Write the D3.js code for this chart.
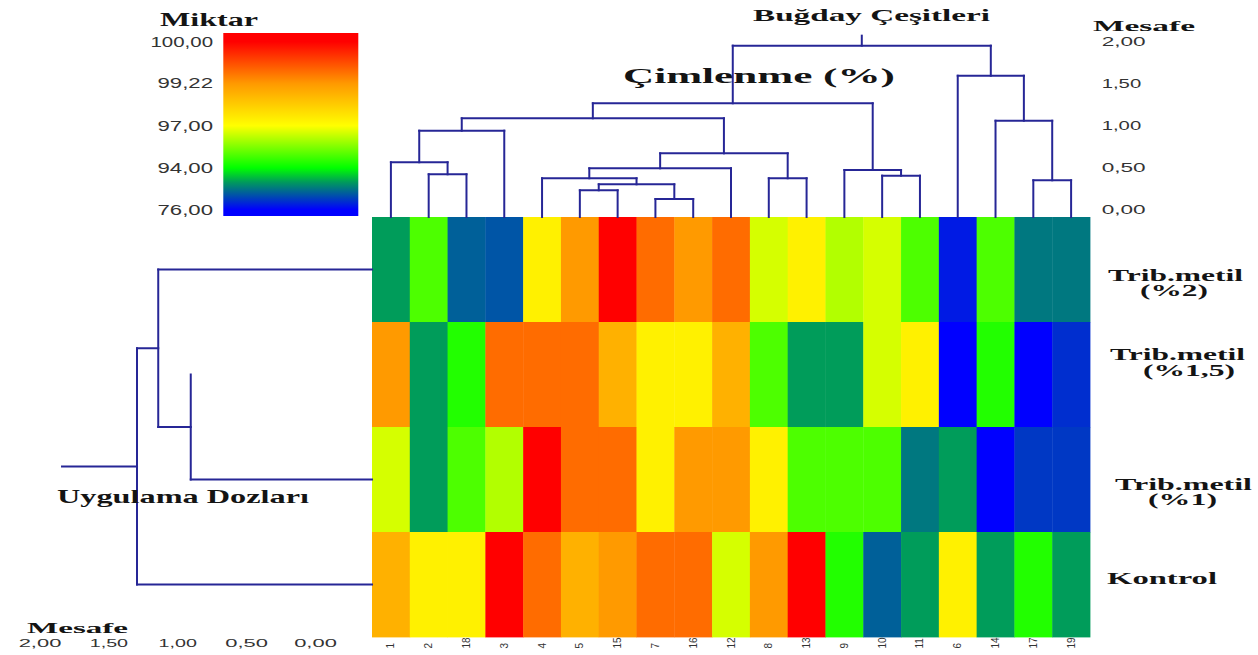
<!DOCTYPE html>
<html>
<head>
<meta charset="utf-8">
<script src="https://cdnjs.cloudflare.com/ajax/libs/d3/7.8.5/d3.min.js"></script>
<style>
body { margin: 0; background: #fff; }
svg { display: block; }
.title { font-family: "Liberation Serif", "Times New Roman", serif; font-weight: bold; fill: #141414; }
.num { font-family: "Liberation Sans", Arial, sans-serif; fill: #333; }
</style>
</head>
<body>
<div id="chart"></div>
<script>
// cultivars in dendrogram leaf order (left to right)
const cultivars = ["1", "2", "18", "3", "4", "5", "15", "7", "16", "12", "8", "13", "9", "10", "11", "6", "14", "17", "19"];
const treatments = ["Trib.metil (%2)", "Trib.metil (%1,5)", "Trib.metil (%1)", "Kontrol"];
const treatmentLines = [["Trib.metil", "(%2)"], ["Trib.metil", "(%1,5)"], ["Trib.metil", "(%1)"], ["Kontrol"]];

// germination %, one array per treatment, same order as cultivars
const trib2   = [88, 94.9, 83.4, 82.5, 97.3, 99.2, 100, 99.45, 99.2, 99.45, 96.5, 97.3, 96.1, 96.5, 94.9, 78, 94.9, 85.2, 85.2];
const trib15  = [99.2, 88, 94.4, 99.45, 99.45, 99.45, 98.7, 97.3, 97.3, 98.7, 94.9, 88, 88, 96.5, 97.3, 76, 94.4, 76, 79.5];
const trib1   = [96.5, 88, 94.9, 96.1, 100, 99.45, 99.45, 97.3, 99.2, 99.2, 97.3, 94.9, 94.9, 94.9, 85.2, 88, 76, 80.3, 80.3];
const kontrol = [98.7, 97.3, 97.3, 100, 99.45, 98.7, 99.2, 99.45, 99.45, 96.5, 99.2, 100, 94.4, 83.4, 88, 97.3, 88, 94.4, 88];

// cluster merges: [a, b, distance], "nK" = result of merge K
const colMerges = [
    ["2", "18", 0.42],
    ["1", "n0", 0.563],
    ["n1", "3", 0.938],
    ["5", "15", 0.23],
    ["7", "16", 0.127],
    ["n3", "n4", 0.301],
    ["4", "n5", 0.373],
    ["n6", "12", 0.491],
    ["8", "13", 0.373],
    ["n7", "n8", 0.669],
    ["n2", "n9", 1.085],
    ["10", "11", 0.404],
    ["9", "n11", 0.471],
    ["n10", "n12", 1.263],
    ["17", "19", 0.349],
    ["14", "n14", 1.056],
    ["6", "n15", 1.59],
    ["n13", "n16", 1.947]
];
const rowMerges = [
    ["Trib.metil (%1,5)", "Trib.metil (%1)", 0.902],
    ["Trib.metil (%2)", "n0", 1.138],
    ["n1", "Kontrol", 1.292]
];

const legendTicks = [100, 99.22, 97, 94, 76];
const distanceTicks = [0, 0.5, 1, 1.5, 2];

const colorDomain = [76, 88, 94, 97, 99.22, 100];
const colorRange = ["#0000ff", "#009c5a", "#00ff00", "#ffff00", "#ff9900", "#ff0000"];
const lineColor = "#262696";

const fmt = d3.formatLocale({decimal: ",", thousands: ".", grouping: [3], currency: ["", ""]}).format(".2f");
// the numbers in the original are drawn wide; '1' is narrow
function numWidth(s) {
    let w = 0;
    for (const ch of s) w += ch === "1" ? 7 : (ch === "," ? 9.5 : 11.5);
    return w;
}

const svg = d3.select("#chart").append("svg")
    .attr("width", 1258)
    .attr("height", 655);

const color = d3.scaleLinear().domain(colorDomain).range(colorRange).clamp(true);

// heatmap
const x = d3.scaleBand().domain(cultivars).range([372, 1090]);
const y = d3.scaleBand().domain(treatments).range([217, 637]);
const rows = [trib2, trib15, trib1, kontrol];

const cells = [];
treatments.forEach(function(t, i) {
    cultivars.forEach(function(c, j) {
        cells.push({t: t, c: c, v: rows[i][j]});
    });
});

svg.append("g").selectAll("rect")
    .data(cells)
    .join("rect")
    .attr("x", d => x(d.c))
    .attr("y", d => y(d.t))
    .attr("width", x.bandwidth() + 0.4)
    .attr("height", y.bandwidth() + 0.4)
    .attr("fill", d => color(d.v));

// column labels
svg.append("g").selectAll("text")
    .data(cultivars)
    .join("text")
    .attr("class", "num")
    .attr("font-size", 10)
    .attr("fill", "#222")
    .attr("text-anchor", "start")
    .attr("dominant-baseline", "central")
    .attr("transform", d => "translate(" + (x(d) + x.bandwidth() / 2) + ",648.5) rotate(-90)")
    .text(d => d);

// build tree from merge table
function buildTree(merges) {
    const nodes = [];
    merges.forEach(function(m, i) {
        const kid = k => /^n\d+$/.test(k) ? nodes[+k.slice(1)] : {name: k, height: 0};
        nodes[i] = {name: "n" + i, height: m[2], children: [kid(m[0]), kid(m[1])]};
    });
    return d3.hierarchy(nodes[nodes.length - 1]);
}

function drawTree(root, posOf, levelOf, vertical, stem, skip) {
    root.eachAfter(n => {
        n.p = n.children ? d3.mean(n.children, c => c.p) : posOf(n.data.name);
    });
    const segs = [];
    root.each(n => {
        if (!n.children) return;
        const L = levelOf(n);
        segs.push([n.children[0].p, L, n.children[1].p, L]);
        n.children.forEach(c => {
            if (skip.indexOf(c.data.name) < 0) segs.push([c.p, levelOf(c), c.p, L]);
        });
    });
    segs.push([root.p, levelOf(root), root.p, levelOf(root) + stem]);

    svg.append("g").selectAll("line")
        .data(segs)
        .join("line")
        .attr("x1", s => vertical ? s[0] : s[1])
        .attr("y1", s => vertical ? s[1] : s[0])
        .attr("x2", s => vertical ? s[2] : s[3])
        .attr("y2", s => vertical ? s[3] : s[2])
        .attr("stroke", lineColor)
        .attr("stroke-width", 2)
        .attr("stroke-linecap", "square");
}

// top dendrogram (cultivars)
const yTop = d3.scaleLinear().domain([0, 2]).range([209.7, 41.2]);
drawTree(buildTree(colMerges),
    name => x(name) + x.bandwidth() / 2,
    n => n.children ? yTop(n.data.height) : 217,
    true, -10, []);

// left dendrogram (treatments); the %1,5 leaf line is absent in the original
const xLeft = d3.scaleLinear().domain([2, 0]).range([39.5, 315]);
drawTree(buildTree(rowMerges),
    name => y(name) + y.bandwidth() / 2,
    n => n.children ? xLeft(n.data.height) : 372,
    false, -75, ["Trib.metil (%1,5)"]);

// distance axes
const axTop = svg.append("g")
    .attr("transform", "translate(1101.7,0)")
    .call(d3.axisRight(yTop).tickValues(distanceTicks).tickFormat(fmt).tickSize(0).tickPadding(0));
axTop.select(".domain").remove();

const axLeft = svg.append("g")
    .attr("transform", "translate(0,639.3)")
    .call(d3.axisBottom(xLeft).tickValues(distanceTicks).tickFormat(fmt).tickSize(0).tickPadding(0));
axLeft.select(".domain").remove();

[axTop, axLeft].forEach(function(ax, i) {
    ax.selectAll("text")
        .attr("class", "num")
        .attr("font-family", null)
        .attr("fill", null)
        .attr("font-size", i === 0 ? 13 : 11)
        .attr("textLength", function() { return numWidth(this.textContent) * (i === 0 ? 1 : 0.97); })
        .attr("lengthAdjust", "spacingAndGlyphs");
});

// colour legend
const legY = d3.scaleLinear().domain([76, 94, 97, 99.22, 100]).range([209.7, 168, 125.7, 83.5, 41.7]);
const barTop = 33, barBottom = 216;
const grad = svg.append("defs").append("linearGradient")
    .attr("id", "leg")
    .attr("gradientUnits", "userSpaceOnUse")
    .attr("x1", 0).attr("y1", barTop)
    .attr("x2", 0).attr("y2", barBottom);
grad.selectAll("stop")
    .data(colorDomain.slice().reverse())
    .join("stop")
    .attr("offset", v => (legY(v) - barTop) / (barBottom - barTop))
    .attr("stop-color", v => color(v));

svg.append("rect")
    .attr("x", 223.3)
    .attr("y", barTop)
    .attr("width", 135)
    .attr("height", barBottom - barTop)
    .attr("fill", "url(#leg)");

const axLeg = svg.append("g")
    .attr("transform", "translate(213,0)")
    .call(d3.axisLeft(legY).tickValues(legendTicks).tickFormat(fmt).tickSize(0).tickPadding(0));
axLeg.select(".domain").remove();
axLeg.selectAll("text")
    .attr("class", "num")
    .attr("font-family", null)
    .attr("fill", null)
    .attr("font-size", 14)
    .attr("textLength", function() { return numWidth(this.textContent); })
    .attr("lengthAdjust", "spacingAndGlyphs");

// titles
function title(txt, tx, ty, size, len) {
    svg.append("text")
        .attr("class", "title")
        .attr("x", tx)
        .attr("y", ty)
        .attr("font-size", size)
        .attr("textLength", len)
        .attr("lengthAdjust", "spacingAndGlyphs")
        .text(txt);
}
title("Miktar", 160, 25.7, 18, 98);
title("Buğday Çeşitleri", 753, 20.5, 17, 237);
title("Mesafe", 1093, 30.7, 15, 102);
title("Çimlenme (%)", 623, 82.7, 22, 272);
title("Uygulama Dozları", 57, 503.3, 19, 252);
title("Mesafe", 27, 632.7, 15, 101);

// treatment labels (line x, baseline y, width)
const labelLayout = [
    [[1108, 281, 135], [1140, 296.3, 68]],
    [[1110, 360.3, 135], [1143, 376.3, 92]],
    [[1115, 489.7, 137], [1148, 504.7, 69]],
    [[1107, 584, 110]]
];
treatmentLines.forEach(function(lines, i) {
    lines.forEach(function(line, k) {
        const L = labelLayout[i][k];
        title(line, L[0], L[1], 16, L[2]);
    });
});
</script>
</body>
</html>
